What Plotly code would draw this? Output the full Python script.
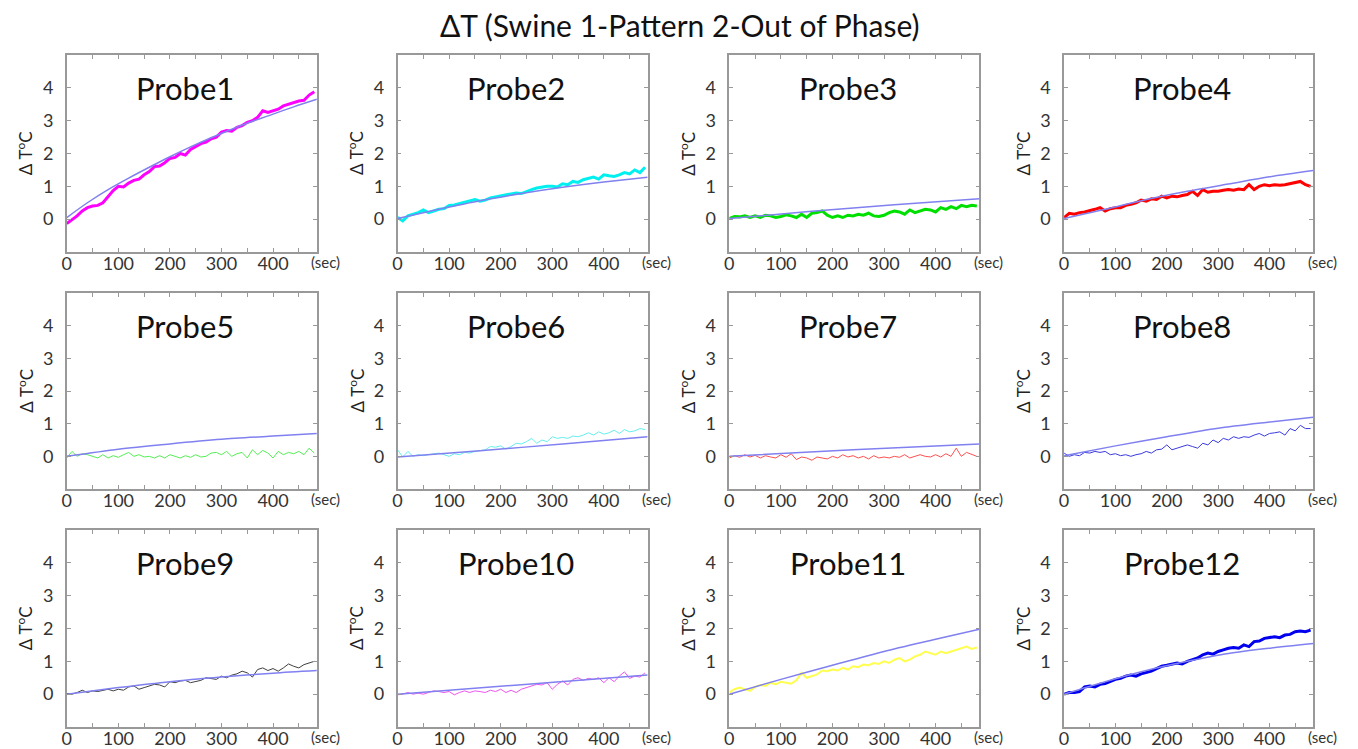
import plotly.graph_objects as go

# ---------------- data ----------------
t_meas = list(range(0, 490, 10))  # seconds

probe_names = ["Probe1", "Probe2", "Probe3", "Probe4", "Probe5", "Probe6",
               "Probe7", "Probe8", "Probe9", "Probe10", "Probe11", "Probe12"]

meas1 = [-0.13, -0.02, 0.1, 0.25, 0.35, 0.4, 0.42, 0.5, 0.7, 0.87, 1.0, 0.98, 1.1, 1.18, 1.22, 1.35,
         1.45, 1.6, 1.62, 1.72, 1.85, 1.88, 2.0, 1.95, 2.12, 2.2, 2.3, 2.35, 2.45, 2.5, 2.65, 2.7,
         2.68, 2.8, 2.85, 2.95, 3.0, 3.1, 3.3, 3.25, 3.3, 3.35, 3.45, 3.5, 3.55, 3.6, 3.62, 3.78, 3.88]
meas2 = [0.05, -0.05, 0.1, 0.15, 0.2, 0.28, 0.2, 0.25, 0.3, 0.32, 0.42, 0.43, 0.47, 0.52, 0.55, 0.6,
         0.55, 0.58, 0.65, 0.68, 0.7, 0.72, 0.75, 0.8, 0.78, 0.85, 0.9, 0.95, 0.98, 1.0, 1.0, 0.98,
         1.08, 1.05, 1.15, 1.12, 1.2, 1.25, 1.28, 1.22, 1.35, 1.32, 1.3, 1.35, 1.42, 1.38, 1.5, 1.42, 1.58]
meas3 = [0.02, 0.08, 0.07, 0.1, 0.05, 0.1, 0.05, 0.12, 0.1, 0.05, 0.08, 0.13, 0.1, 0.05, 0.15, 0.05,
         0.18, 0.2, 0.25, 0.12, 0.05, 0.1, 0.05, 0.12, 0.1, 0.15, 0.12, 0.18, 0.1, 0.08, 0.12, 0.2,
         0.25, 0.22, 0.15, 0.28, 0.2, 0.25, 0.3, 0.28, 0.22, 0.35, 0.3, 0.38, 0.32, 0.42, 0.38, 0.42, 0.4]
meas4 = [0.05, 0.18, 0.15, 0.2, 0.22, 0.25, 0.3, 0.35, 0.25, 0.32, 0.35, 0.35, 0.42, 0.45, 0.5, 0.58,
         0.55, 0.62, 0.6, 0.7, 0.65, 0.7, 0.68, 0.72, 0.75, 0.85, 0.72, 0.9, 0.82, 0.85, 0.85, 0.88,
         0.9, 0.88, 0.92, 0.9, 1.05, 0.9, 1.0, 1.05, 1.02, 1.05, 1.03, 1.05, 1.08, 1.1, 1.15, 1.05, 1.0]
meas5 = [-0.05, 0.15, 0.0, 0.08, 0.05, 0.0, -0.05, 0.05, -0.05, 0.02, -0.03, 0.05, 0.12, 0.0, 0.05, -0.02,
         0.0, -0.05, 0.02, -0.05, 0.05, 0.0, -0.05, 0.02, -0.03, 0.05, -0.02, 0.0, 0.1, 0.12, 0.05, 0.15,
         0.0, 0.08, 0.12, -0.05, 0.2, 0.05, 0.18, 0.1, -0.05, 0.15, 0.05, 0.12, 0.08, 0.15, 0.05, 0.25, 0.1]
meas6 = [0.2, -0.02, 0.15, 0.0, 0.05, 0.02, 0.05, 0.08, 0.1, 0.05, 0.0, 0.08, 0.05, 0.12, 0.1, 0.15,
         0.18, 0.2, 0.3, 0.28, 0.32, 0.22, 0.3, 0.4, 0.38, 0.45, 0.55, 0.4, 0.5, 0.45, 0.6, 0.55,
         0.58, 0.55, 0.62, 0.6, 0.65, 0.72, 0.65, 0.75, 0.68, 0.72, 0.8, 0.7, 0.82, 0.75, 0.78, 0.85, 0.82]
meas7 = [-0.05, 0.02, -0.03, 0.05, -0.02, 0.03, -0.05, 0.02, -0.02, -0.05, 0.05, -0.03, 0.08, -0.1, -0.02, -0.05,
         -0.12, -0.02, -0.05, -0.08, 0.0, -0.05, 0.05, -0.02, 0.02, -0.05, 0.0, -0.08, 0.02, -0.05, -0.02, -0.05,
         0.0, -0.03, 0.05, -0.05, 0.0, 0.05, 0.0, -0.02, 0.05, -0.02, 0.08, 0.0, 0.25, 0.0, 0.12, 0.05, 0.0]
meas8 = [0.1, 0.0, 0.05, 0.02, 0.12, 0.1, 0.15, 0.12, 0.15, 0.05, 0.08, 0.02, 0.05, 0.0, 0.05, 0.08,
         0.15, 0.1, 0.2, 0.22, 0.35, 0.2, 0.25, 0.3, 0.35, 0.3, 0.25, 0.4, 0.35, 0.5, 0.42, 0.55,
         0.5, 0.6, 0.55, 0.6, 0.58, 0.65, 0.7, 0.62, 0.7, 0.72, 0.75, 0.65, 0.85, 0.78, 0.95, 0.85, 0.85]
meas9 = [0.02, 0.0, 0.05, 0.12, 0.05, 0.1, 0.08, 0.12, 0.15, 0.1, 0.15, 0.12, 0.22, 0.25, 0.15, 0.2,
         0.25, 0.3, 0.28, 0.22, 0.38, 0.35, 0.4, 0.42, 0.35, 0.38, 0.42, 0.5, 0.48, 0.45, 0.55, 0.5,
         0.58, 0.62, 0.7, 0.65, 0.52, 0.75, 0.8, 0.72, 0.78, 0.7, 0.8, 0.92, 0.85, 0.8, 0.9, 0.95, 1.0]
meas10 = [-0.02, 0.0, 0.05, 0.0, 0.03, 0.0, 0.05, 0.1, 0.08, 0.05, 0.08, -0.02, 0.05, 0.1, 0.05, 0.1,
          0.08, 0.05, 0.12, 0.08, 0.15, 0.05, 0.12, 0.05, 0.15, 0.2, 0.25, 0.3, 0.28, 0.35, 0.15, 0.3,
          0.4, 0.28, 0.45, 0.5, 0.42, 0.48, 0.45, 0.5, 0.35, 0.5, 0.38, 0.55, 0.68, 0.48, 0.55, 0.52, 0.65]
meas11 = [0.05, 0.15, 0.2, 0.15, 0.1, 0.22, 0.28, 0.25, 0.35, 0.3, 0.38, 0.35, 0.32, 0.42, 0.65, 0.5,
          0.55, 0.6, 0.72, 0.7, 0.75, 0.72, 0.8, 0.75, 0.85, 0.82, 0.9, 0.88, 0.95, 0.92, 1.0, 0.95,
          1.05, 1.1, 1.0, 1.05, 1.15, 1.2, 1.3, 1.25, 1.2, 1.3, 1.25, 1.3, 1.35, 1.4, 1.45, 1.38, 1.42]
meas12 = [0.0, 0.05, 0.05, 0.08, 0.22, 0.25, 0.22, 0.3, 0.32, 0.38, 0.45, 0.48, 0.55, 0.58, 0.55, 0.62,
          0.65, 0.7, 0.78, 0.85, 0.88, 0.92, 0.95, 0.92, 1.0, 1.05, 1.1, 1.2, 1.25, 1.22, 1.3, 1.35,
          1.4, 1.42, 1.4, 1.5, 1.45, 1.6, 1.62, 1.7, 1.72, 1.75, 1.72, 1.8, 1.82, 1.9, 1.92, 1.9, 1.95]

# fitted model curves (time, value)
fit1_t = [0, 40, 80, 120, 160, 200, 240, 280, 320, 360, 400, 440, 485]
fit1_v = [0.05, 0.5, 0.9, 1.25, 1.58, 1.9, 2.2, 2.48, 2.74, 2.98, 3.2, 3.42, 3.65]
fit2_t = [0, 80, 160, 240, 320, 400, 485]
fit2_v = [0.02, 0.3, 0.56, 0.78, 0.97, 1.13, 1.28]
fit3_t = [0, 160, 320, 485]
fit3_v = [0.02, 0.24, 0.44, 0.62]
fit4_t = [0, 80, 160, 240, 320, 400, 485]
fit4_v = [0.02, 0.3, 0.6, 0.85, 1.07, 1.29, 1.48]
fit5_t = [0, 100, 200, 300, 400, 485]
fit5_v = [0.0, 0.22, 0.38, 0.52, 0.62, 0.7]
fit6_t = [0, 160, 320, 485]
fit6_v = [-0.02, 0.17, 0.38, 0.6]
fit7_t = [0, 240, 485]
fit7_v = [0.0, 0.2, 0.38]
fit8_t = [0, 100, 200, 300, 400, 485]
fit8_v = [0.02, 0.32, 0.6, 0.86, 1.05, 1.2]
fit9_t = [0, 100, 200, 300, 400, 485]
fit9_v = [0.0, 0.2, 0.38, 0.52, 0.64, 0.72]
fit10_t = [0, 240, 485]
fit10_v = [0.0, 0.29, 0.58]
fit11_t = [0, 100, 200, 300, 400, 485]
fit11_v = [0.0, 0.45, 0.88, 1.3, 1.67, 1.98]
fit12_t = [0, 80, 160, 240, 320, 400, 485]
fit12_v = [0.0, 0.38, 0.72, 1.0, 1.24, 1.4, 1.54]

measured = [meas1, meas2, meas3, meas4, meas5, meas6, meas7, meas8, meas9, meas10, meas11, meas12]
fits = [(fit1_t, fit1_v), (fit2_t, fit2_v), (fit3_t, fit3_v), (fit4_t, fit4_v),
        (fit5_t, fit5_v), (fit6_t, fit6_v), (fit7_t, fit7_v), (fit8_t, fit8_v),
        (fit9_t, fit9_v), (fit10_t, fit10_v), (fit11_t, fit11_v), (fit12_t, fit12_v)]

x_tick_vals = [0, 100, 200, 300, 400]
y_tick_vals = [0, 1, 2, 3, 4]

# ---------------- styles ----------------
colors = ["#ff00ff", "#00f0f0", "#00e000", "#ff0000",
          "#55ee55", "#66eeee", "#ff5050", "#3a3ae0",
          "#404040", "#ee55ee", "#ffff50", "#0000ee"]
widths = [3, 3, 3, 3, 1, 1, 1, 1, 1, 1, 2, 3]
fit_color = "#8080f0"

# page has an 8px body margin; figure coordinates = page coordinates - 8
OFF = 8
W, H = 1358 - OFF, 749 - OFF
col_px = [(62, 313), (394, 645), (727, 978), (1063, 1313)]
row_px = [(55, 252), (293, 489), (530, 727)]

FONT = "Lato, Carlito, Calibri, sans-serif"

fig = go.Figure()
layout = dict(
    width=W, height=H,
    margin=dict(l=0, r=0, t=0, b=0),
    paper_bgcolor="white", plot_bgcolor="white",
    showlegend=False,
    font=dict(family=FONT, color="#333333"),
)
annotations = []

for i in range(12):
    r, c = divmod(i, 4)
    n = i + 1
    xa = "x" if n == 1 else f"x{n}"
    ya = "y" if n == 1 else f"y{n}"
    xkey = "xaxis" if n == 1 else f"xaxis{n}"
    ykey = "yaxis" if n == 1 else f"yaxis{n}"
    x0, x1 = (p - OFF for p in col_px[c])
    y0, y1 = (p - OFF for p in row_px[r])

    fig.add_trace(go.Scatter(x=t_meas, y=measured[i], mode="lines", xaxis=xa, yaxis=ya,
                             line=dict(color=colors[i], width=widths[i]), hoverinfo="skip"))
    ft, fv = fits[i]
    fig.add_trace(go.Scatter(x=ft, y=fv, mode="lines", xaxis=xa, yaxis=ya,
                             line=dict(color=fit_color, width=1.5, shape="spline", smoothing=0.8),
                             hoverinfo="skip"))

    layout[xkey] = dict(
        domain=[x0 / W, x1 / W], anchor=ya, range=[0, 485],
        tickvals=x_tick_vals, ticks="inside", ticklen=4, tickcolor="#999999",
        minor=dict(dtick=50, tick0=0, ticks="inside", ticklen=4, tickcolor="#999999"),
        showline=True, linecolor="#999999", linewidth=1.5, mirror="ticks",
        showgrid=False, zeroline=False, tickfont=dict(size=18, color="#333333", family=FONT),
        ticklabelstandoff=-5, fixedrange=True,
    )
    layout[ykey] = dict(
        domain=[1 - y1 / H, 1 - y0 / H], anchor=xa, range=[-1, 5],
        tickvals=y_tick_vals, ticks="inside", ticklen=4, tickcolor="#999999",
        showline=True, linecolor="#999999", linewidth=1.5, mirror="ticks",
        showgrid=False, zeroline=False, tickfont=dict(size=18, color="#333333", family=FONT),
        ticklabelstandoff=8, fixedrange=True,
    )
    annotations.append(dict(text=probe_names[i], xref=xa, yref=ya, x=230, y=4.0,
                            showarrow=False, xanchor="center", yanchor="middle",
                            font=dict(size=31, color="#111111", family=FONT)))
    annotations.append(dict(text="(sec)", xref=f"{xa} domain", yref=f"{ya} domain",
                            x=1.0, y=0, xshift=9, yshift=-10, xanchor="center", yanchor="middle",
                            showarrow=False, font=dict(size=15, color="#333333", family=FONT)))
    annotations.append(dict(text="Δ T<sup>o</sup>C", xref=f"{xa} domain", yref=f"{ya} domain",
                            x=0, y=0.5, xshift=-42, xanchor="center", yanchor="middle",
                            textangle=-90, showarrow=False,
                            font=dict(size=17, color="#222222", family=FONT)))

annotations.append(dict(text="ΔT (Swine 1-Pattern 2-Out of Phase)", xref="paper", yref="paper",
                        x=(677 - OFF) / W, y=1 - (25 - OFF) / H, xanchor="center", yanchor="middle",
                        showarrow=False, font=dict(size=30, color="#111111", family=FONT)))
layout["annotations"] = annotations
fig.update_layout(**layout)

fig.write_html("out.html")
